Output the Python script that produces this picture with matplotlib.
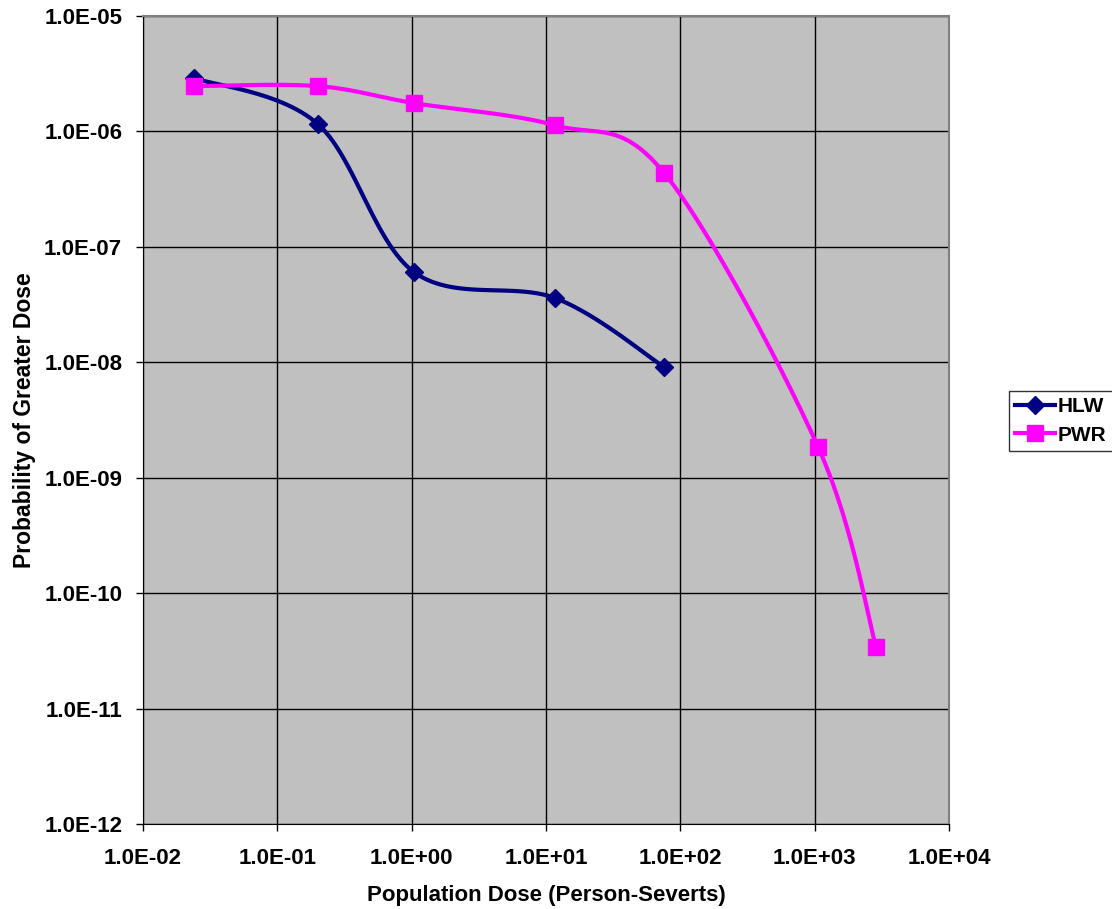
import numpy as np
import matplotlib.pyplot as plt
from matplotlib.ticker import FuncFormatter, FixedLocator, NullLocator

plt.rcParams['font.family'] = ['Liberation Sans', 'DejaVu Sans']
plt.rcParams['font.weight'] = 'bold'

# values
hlw_dose = [0.024, 0.20, 1.04, 11.7, 75.7]
hlw_prob = [2.9e-6, 1.16e-6, 6.05e-8, 3.6e-8, 9.1e-9]
pwr_dose = [0.024, 0.20, 1.04, 11.7, 75.7, 1062, 2870]
pwr_prob = [2.47e-6, 2.47e-6, 1.76e-6, 1.13e-6, 4.37e-7, 1.84e-9, 3.4e-11]
x_ticks = [1e-2, 1e-1, 1e0, 1e1, 1e2, 1e3, 1e4]
y_ticks = [1e-12, 1e-11, 1e-10, 1e-9, 1e-8, 1e-7, 1e-6, 1e-5]

# pixels per decade on each axis, so the smoothing looks like the Excel curve
SX, SY = 134.3, 115.4


def smooth(xs, ys, n=30):
    # Catmull-Rom style bezier through points, done in log/screen space
    u = np.log10(xs) * SX
    v = np.log10(ys) * SY
    p = np.column_stack([u, v])
    out = [p[0]]
    for i in range(len(p) - 1):
        p0 = p[i - 1] if i > 0 else p[i]
        p1, p2 = p[i], p[i + 1]
        p3 = p[i + 2] if i + 2 < len(p) else p[i + 1]
        c1 = p1 + (p2 - p0) / 6
        c2 = p2 - (p3 - p1) / 6
        t = np.linspace(0, 1, n)[1:, None]
        seg = ((1 - t) ** 3 * p1 + 3 * (1 - t) ** 2 * t * c1
               + 3 * (1 - t) * t ** 2 * c2 + t ** 3 * p2)
        out.extend(seg)
    out = np.array(out)
    return 10 ** (out[:, 0] / SX), 10 ** (out[:, 1] / SY)


fig = plt.figure(figsize=(11.12, 9.09), dpi=100)
ax = fig.add_axes([143 / 1112, 85 / 909, 806 / 1112, 808 / 909])
ax.set_facecolor('#C0C0C0')
ax.set_xscale('log')
ax.set_yscale('log')
ax.set_xlim(1e-2, 1e4)
ax.set_ylim(1e-12, 1e-5)

hx, hy = smooth(hlw_dose, hlw_prob)
px, py = smooth(pwr_dose, pwr_prob)
ax.plot(hx, hy, color='#000080', lw=3, zorder=3)
ax.plot(hlw_dose, hlw_prob, ls='none', marker='D', ms=9.5, color='#000080', zorder=4)
ax.plot(px, py, color='#FF00FF', lw=3, zorder=3)
ax.plot(pwr_dose, pwr_prob, ls='none', marker='s', ms=11, color='#FF00FF', zorder=4)

# legend proxies
h1, = ax.plot([], [], color='#000080', lw=3, marker='D', ms=9.5, label='HLW')
h2, = ax.plot([], [], color='#FF00FF', lw=3, marker='s', ms=11, label='PWR')
leg = fig.legend(handles=[h1, h2], loc='center left', bbox_to_anchor=(1009 / 1112, 1 - 421 / 909),
                 frameon=True, fancybox=False, edgecolor='black', fontsize=15,
                 handlelength=1.9, borderpad=0.3, labelspacing=0.45, handletextpad=0.15,
                 borderaxespad=0)
leg.get_frame().set_linewidth(1)

fmt = FuncFormatter(lambda v, pos: f"{v:.1E}")
ax.xaxis.set_major_locator(FixedLocator(x_ticks))
ax.yaxis.set_major_locator(FixedLocator(y_ticks))
ax.xaxis.set_minor_locator(NullLocator())
ax.yaxis.set_minor_locator(NullLocator())
ax.xaxis.set_major_formatter(fmt)
ax.yaxis.set_major_formatter(fmt)
ax.tick_params(direction='out', length=5, width=1, labelsize=16)
ax.tick_params(axis='y', pad=10)
ax.tick_params(axis='x', pad=12)
ax.grid(True, color='black', lw=1)

for s in ['top', 'right']:
    ax.spines[s].set_color('#808080')
    ax.spines[s].set_linewidth(1.5)
for s in ['left', 'bottom']:
    ax.spines[s].set_color('black')

ax.set_xlabel('Population Dose (Person-Severts)', fontsize=16, fontweight='bold', labelpad=12)
ax.set_ylabel('Probability of Greater Dose', fontsize=16.5, fontweight='bold', labelpad=6)

fig.savefig('out.png', dpi=100)
